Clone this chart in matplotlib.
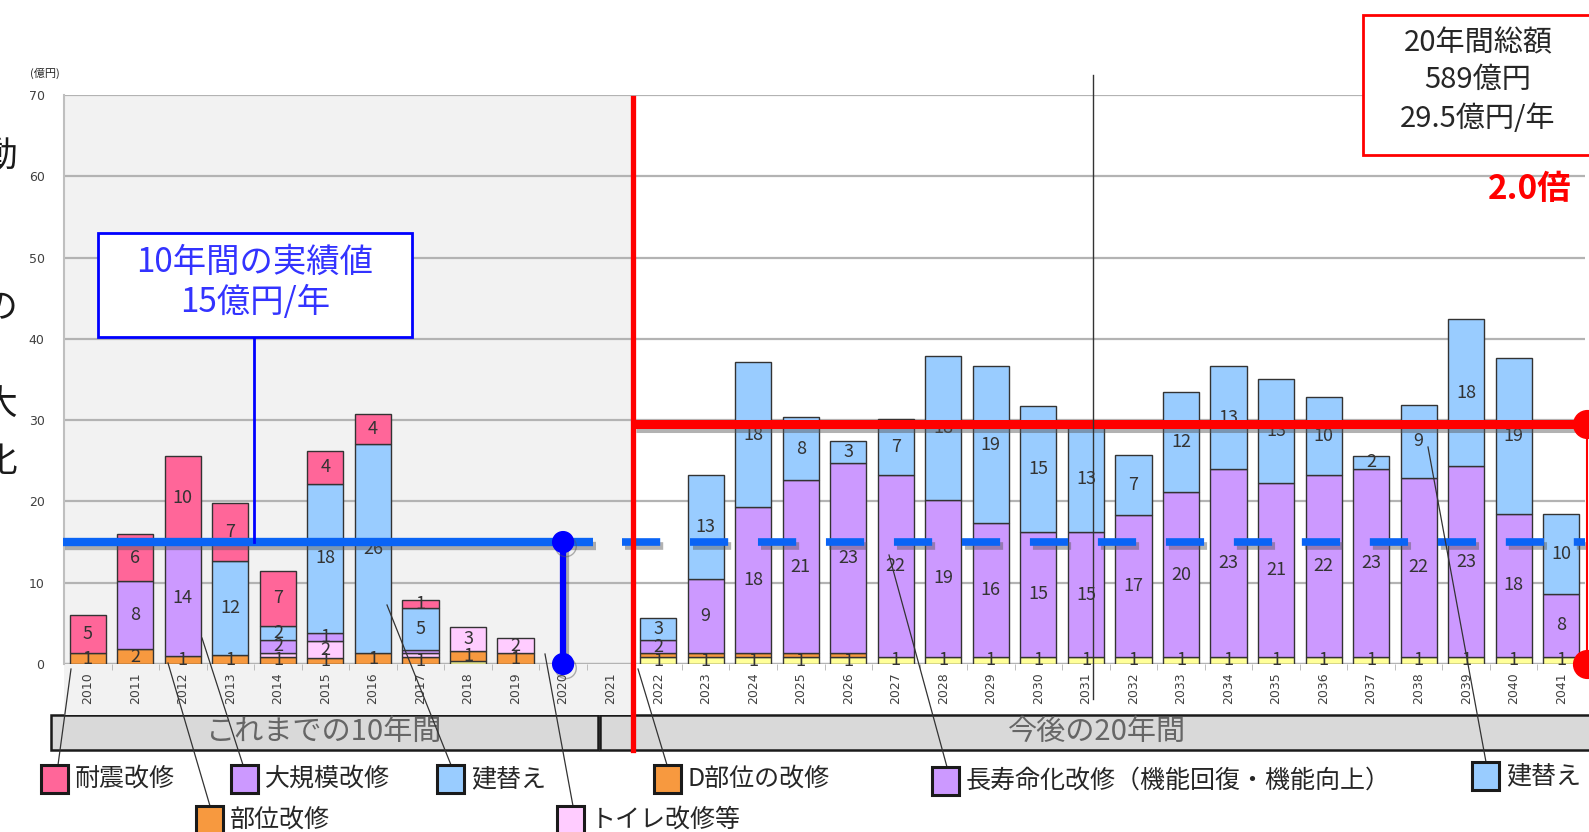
import numpy as np
import matplotlib.pyplot as plt
import matplotlib.patheffects as pe
from matplotlib.patches import Rectangle
from matplotlib.lines import Line2D

plt.rcParams['font.family'] = ['Noto Sans CJK JP', 'DejaVu Sans']

W, H = 1589, 832

years = list(range(2010, 2042))

# 億円 per year, stacked from the bottom up
misc = [0, 0, 0, 0, 0, 0, 0, 0, 0.4, 0, 0, 0,
        0.8, 0.8, 0.8, 0.8, 0.8, 0.9, 0.9, 0.9, 0.9, 0.9,
        0.9, 0.9, 0.9, 0.9, 0.9, 0.9, 0.9, 0.9, 0.9, 0.9]
part_repair = [1.3, 1.8, 1.0, 1.1, 0.9, 0.7, 1.3, 0.8, 1.2, 1.3, 0, 0,
               0.5, 0.5, 0.5, 0.5, 0.5, 0, 0, 0, 0, 0,
               0, 0, 0, 0, 0, 0, 0, 0, 0, 0]
toilet = [0, 0, 0, 0, 0.5, 2.1, 0, 0.5, 2.9, 1.9, 0, 0,
          0, 0, 0, 0, 0, 0, 0, 0, 0, 0,
          0, 0, 0, 0, 0, 0, 0, 0, 0, 0]
major_repair = [0, 8.4, 14.3, 0, 1.6, 1.0, 0, 0.4, 0, 0, 0, 0,
                1.7, 9.1, 18.0, 21.3, 23.4, 22.4, 19.3, 16.4, 15.4, 15.3,
                17.4, 20.2, 23.1, 21.4, 22.3, 23.1, 22.0, 23.4, 17.6, 7.7]
rebuild = [0, 0, 0, 11.6, 1.7, 18.4, 25.8, 5.2, 0, 0, 0, 0,
           2.6, 12.8, 17.8, 7.8, 2.7, 6.9, 17.7, 19.3, 15.4, 13.2,
           7.4, 12.4, 12.6, 12.8, 9.6, 1.6, 9.0, 18.2, 19.1, 9.8]
seismic = [4.7, 5.8, 10.3, 7.1, 6.8, 4.0, 3.7, 1.0, 0, 0, 0, 0,
           0, 0, 0, 0, 0, 0, 0, 0, 0, 0,
           0, 0, 0, 0, 0, 0, 0, 0, 0, 0]

past_avg = 15
future_total = 589
future_avg = 29.5

c_pink = '#ff6699'
c_purple = '#cc99ff'
c_blue = '#99ccff'
c_orange = '#f7993f'
c_toilet = '#ffccff'
c_yellow = '#ffff99'

series = [
    (misc, c_yellow),
    (part_repair, c_orange),
    (toilet, c_toilet),
    (major_repair, c_purple),
    (rebuild, c_blue),
    (seismic, c_pink),
]


def fx(px):
    return px / W


def fy(py):
    return 1 - py / H


fig = plt.figure(figsize=(W / 100, H / 100), dpi=100)
ax = fig.add_axes([fx(64), fy(664), (1585 - 64) / W, (664 - 95) / H])
ax.patch.set_visible(False)

x = np.arange(len(years))
ax.set_xlim(-0.5, 31.5)
ax.set_ylim(0, 70)

# light grey panel behind the past ten years
ax.add_patch(Rectangle((-0.5, -6.3), 11.98, 76.3, facecolor='#f2f2f2',
                       edgecolor='none', zorder=0.1, clip_on=False))

ax.set_axisbelow(True)
ax.yaxis.grid(True, color='#b3b3b3', lw=1.6)
ax.axhline(0, color='#b3b3b3', lw=1.6, zorder=0.5)

bottom = np.zeros(len(years))
for vals, color in series:
    vals = np.array(vals, dtype=float)
    m = vals > 0
    ax.bar(x[m], vals[m], width=0.76, bottom=bottom[m], color=color,
           edgecolor='#333333', lw=1.0, zorder=2)
    for xi, v, b in zip(x, vals, bottom):
        if v >= 0.6:
            ax.text(xi, b + v / 2, f"{v:.0f}", ha='center', va='center',
                    fontsize=13, color='#333333', zorder=3)
    bottom += vals

shadow = [pe.SimpleLineShadow(offset=(2, -3), shadow_color='#555555', alpha=0.45),
          pe.Normal()]

# past average
ax.plot([-0.53, 10.64], [past_avg, past_avg], color='#0a64f5', lw=6,
        solid_capstyle='butt', clip_on=False, zorder=4, path_effects=shadow)
ax.plot([10, 10], [0, past_avg], color='#0000ff', lw=4.5, marker='o', ms=15,
        clip_on=False, zorder=4, path_effects=shadow)
ax.plot([11.25, 31.5], [past_avg, past_avg], color='#0a64f5', lw=5.5,
        dashes=(5.0, 3.9), clip_on=False, zorder=4, path_effects=shadow)
ax.plot([3.5, 3.5], [past_avg, 40.3], color='#0000ff', lw=2, zorder=4,
        clip_on=False)

# future average
ax.plot([11.48, 31.7], [future_avg, future_avg], color='#ff0000', lw=6.5,
        solid_capstyle='butt', clip_on=False, zorder=4, path_effects=shadow)
ax.plot([31.55, 31.55], [0, future_avg], color='#ff0000', lw=1.5, marker='o',
        ms=20, clip_on=False, zorder=4)
ax.plot([11.48, 11.48], [69.6, -10.6], color='#ff0000', lw=3.8,
        clip_on=False, zorder=5)
ax.plot([21.14, 21.14], [72.4, -4.3], color='#333333', lw=1.0,
        clip_on=False, zorder=4)

ax.set_xticks(x, labels=[str(y) for y in years], rotation=90, fontsize=9,
              color='#404040', family='DejaVu Sans')
ax.set_xticks(x[:-1] + 0.5, minor=True)
ax.tick_params(axis='x', which='major', length=0, pad=6)
ax.tick_params(axis='x', which='minor', length=4, color='#b3b3b3')
ax.set_yticks(range(0, 80, 10))
ax.tick_params(axis='y', length=0, pad=14, labelsize=9, labelcolor='#404040')
for lab in ax.get_yticklabels():
    lab.set_family('DejaVu Sans')
for s in ['top', 'right', 'bottom']:
    ax.spines[s].set_visible(False)
ax.spines['left'].set_color('#bfbfbf')
ax.spines['left'].set_linewidth(1.5)

fig.text(fx(45), fy(73), '(億円)', fontsize=8, ha='center', va='center',
         color='#262626')

# period bands
for x0, x1, label, cx in [(51, 598, 'これまでの10年間', 324),
                          (600, 1610, '今後の20年間', 1097)]:
    fig.add_artist(Rectangle((fx(x0), fy(750)), (x1 - x0) / W, 35 / H,
                             transform=fig.transFigure, facecolor='#d9d9d9',
                             edgecolor='#1a1a1a', lw=1.8, zorder=-1))
    fig.text(fx(cx), fy(732), label, fontsize=21, color='#666666',
             ha='center', va='center', zorder=-1)

# legend boxes with leader lines
legend_items = [
    ('耐震改修', c_pink, 41, 765, (58, 765), (71, 669)),
    ('大規模改修', c_purple, 231, 765, (243, 765), (202, 638)),
    ('建替え', c_blue, 437, 765, (451, 765), (387, 605)),
    ('部位改修', c_orange, 196, 806, (210, 806), (168, 663)),
    ('トイレ改修等', c_toilet, 557, 806, (573, 806), (545, 654)),
    ('D部位の改修', c_orange, 654, 765, (667, 765), (638, 669)),
    ('長寿命化改修（機能回復・機能向上）', c_purple, 932, 767, (947, 767), (889, 555)),
    ('建替え', c_blue, 1472, 762, (1486, 762), (1428, 447)),
]
for label, color, bx, by, p0, p1 in legend_items:
    fig.add_artist(Line2D([fx(p0[0]), fx(p1[0])], [fy(p0[1]), fy(p1[1])],
                          transform=fig.transFigure, color='#333333', lw=0.9,
                          zorder=6))
    fig.add_artist(Rectangle((fx(bx), fy(by + 28)), 27 / W, 28 / H,
                             transform=fig.transFigure, facecolor=color,
                             edgecolor='#1a1a1a', lw=2.2, zorder=7))
    fig.text(fx(bx + 34), fy(by + 14), label, fontsize=18, color='#262626',
             ha='left', va='center', zorder=7)

# average annotation boxes
fig.add_artist(Rectangle((fx(98), fy(337)), 314 / W, 104 / H,
                         transform=fig.transFigure, facecolor='white',
                         edgecolor='#0000ff', lw=2, zorder=8))
fig.text(fx(255), fy(262), '10年間の実績値', fontsize=24, color='#3333ff',
         ha='center', va='center', zorder=9)
fig.text(fx(255), fy(302), f'{past_avg}億円/年', fontsize=24, color='#3333ff',
         ha='center', va='center', zorder=9)

fig.add_artist(Rectangle((fx(1363), fy(155)), 250 / W, 140 / H,
                         transform=fig.transFigure, facecolor='white',
                         edgecolor='#ff0000', lw=2, zorder=8))
for txt, py in [('20年間総額', 43), (f'{future_total}億円', 80),
                (f'{future_avg}億円/年', 119)]:
    fig.text(fx(1478), fy(py), txt, fontsize=21, color='#262626',
             ha='center', va='center', zorder=9)
fig.text(fx(1530), fy(190), f'{future_avg / past_avg:.1f}倍', fontsize=24,
         fontweight='bold', color='#ff0000', ha='center', va='center', zorder=9)

# text running in from the left margin
for ch, py in [('動', 157), ('の', 309), ('大', 405), ('化', 461)]:
    fig.text(fx(0), fy(py), ch, fontsize=25, color='#1a1a1a',
             ha='center', va='center')

fig.savefig('out.png', dpi=100)
